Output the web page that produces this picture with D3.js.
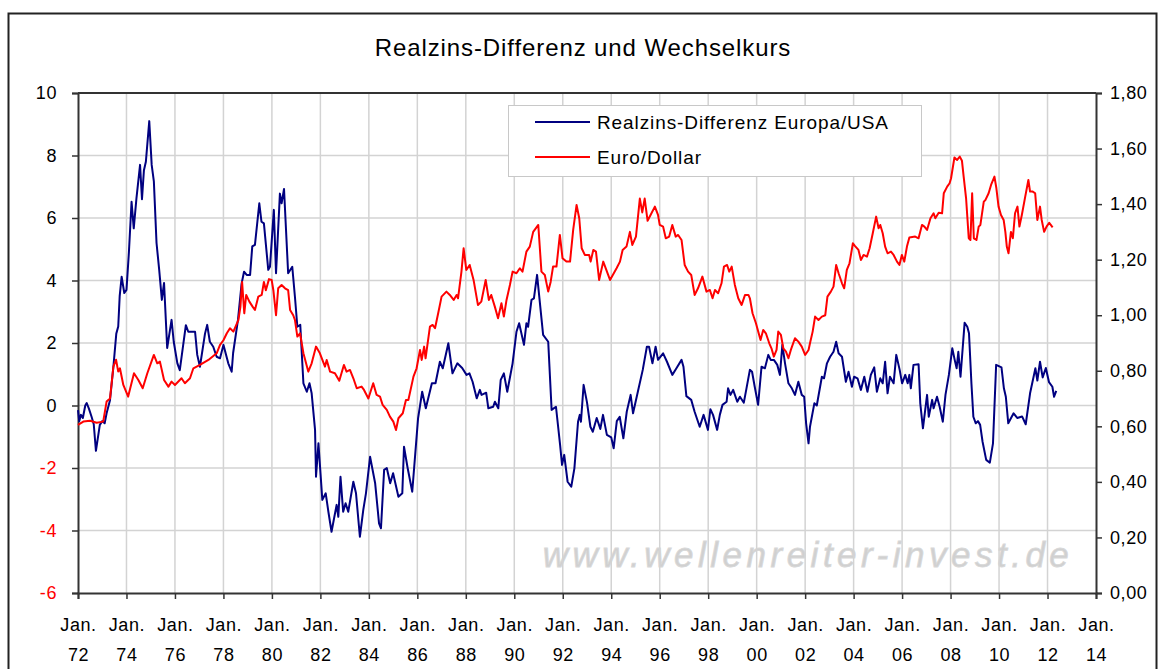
<!DOCTYPE html>
<meta charset="utf-8">
<script src="https://cdn.jsdelivr.net/npm/d3@7/dist/d3.min.js"></script>
<style>
    body { margin: 0; background: #fff; }
    svg text { font-family: "Liberation Sans", Arial, sans-serif; }
</style>

<svg width="1161" height="669"></svg>

<script>

    // Realzins-Differenz Europa/USA (left axis)
    var realDates = [1972.00, 1972.05, 1972.12, 1972.20, 1972.30, 1972.36, 1972.45, 1972.56, 1972.65, 1972.74, 1972.90, 1973.00, 1973.10, 1973.18, 1973.32, 1973.46, 1973.58, 1973.66, 1973.72, 1973.80, 1973.91,
        1974.00, 1974.10, 1974.21, 1974.30, 1974.41, 1974.56, 1974.64, 1974.72, 1974.80, 1974.94, 1975.04, 1975.13, 1975.24, 1975.35, 1975.46, 1975.55, 1975.68, 1975.86, 1975.95,
        1976.10, 1976.20, 1976.45, 1976.55, 1976.83, 1976.92, 1977.03, 1977.24, 1977.33, 1977.44, 1977.58, 1977.72, 1977.86, 1978.00, 1978.20, 1978.34, 1978.40, 1978.60, 1978.75, 1978.85, 1978.96,
        1979.10, 1979.19, 1979.30, 1979.48, 1979.57, 1979.67, 1979.85, 1979.92, 1980.08, 1980.17, 1980.33, 1980.40, 1980.50, 1980.67, 1980.84, 1980.95, 1981.05, 1981.17, 1981.30, 1981.44, 1981.55, 1981.64, 1981.78, 1981.82, 1981.92,
        1982.08, 1982.22, 1982.33, 1982.46, 1982.67, 1982.74, 1982.83, 1982.94, 1983.04, 1983.15, 1983.36, 1983.47, 1983.63, 1983.77, 1983.88, 1984.05, 1984.26, 1984.42, 1984.50, 1984.63, 1984.74, 1984.88,
        1985.00, 1985.22, 1985.38, 1985.45, 1985.60, 1985.79, 1986.03, 1986.20, 1986.35, 1986.60, 1986.75, 1986.93, 1987.05, 1987.28, 1987.45, 1987.65, 1987.85, 1988.03, 1988.15, 1988.28, 1988.45, 1988.58, 1988.65, 1988.84, 1988.93,
        1989.13, 1989.20, 1989.34, 1989.44, 1989.57, 1989.71, 1989.93, 1990.09, 1990.20, 1990.40, 1990.50, 1990.57, 1990.71, 1990.81, 1990.94, 1991.19, 1991.40, 1991.54, 1991.72, 1991.89, 1991.97,
        1992.06, 1992.20, 1992.35, 1992.48, 1992.63, 1992.70, 1992.75, 1992.86, 1993.00, 1993.14, 1993.24, 1993.40, 1993.55, 1993.66, 1993.82, 1994.00, 1994.10, 1994.23, 1994.35, 1994.50, 1994.64, 1994.80, 1994.90,
        1995.10, 1995.30, 1995.47, 1995.56, 1995.70, 1995.83, 1995.93, 1996.14, 1996.30, 1996.52, 1996.69, 1996.90, 1996.98, 1997.10, 1997.30, 1997.44, 1997.65, 1997.81, 1997.99,
        1998.09, 1998.20, 1998.37, 1998.48, 1998.59, 1998.76, 1998.82, 1998.92, 1999.03, 1999.20, 1999.31, 1999.47, 1999.58, 1999.72, 1999.81, 1999.92,
        2000.06, 2000.20, 2000.34, 2000.48, 2000.58, 2000.71, 2000.85, 2000.96, 2001.06, 2001.17, 2001.31, 2001.45, 2001.58, 2001.72, 2001.86, 2001.96,
        2002.04, 2002.14, 2002.20, 2002.38, 2002.48, 2002.69, 2002.78, 2002.90, 2003.03, 2003.17, 2003.28, 2003.38, 2003.52, 2003.68, 2003.79, 2003.93,
        2004.02, 2004.16, 2004.30, 2004.44, 2004.57, 2004.71, 2004.85, 2004.96, 2005.10, 2005.20, 2005.30, 2005.40, 2005.50, 2005.65, 2005.76, 2005.90,
        2006.00, 2006.13, 2006.23, 2006.30, 2006.36, 2006.47, 2006.68, 2006.75, 2006.86, 2007.03, 2007.10, 2007.24, 2007.30, 2007.44, 2007.55, 2007.68, 2007.79, 2007.93,
        2008.07, 2008.17, 2008.25, 2008.32, 2008.41, 2008.58, 2008.69, 2008.76, 2008.86, 2008.94, 2009.04, 2009.13, 2009.22, 2009.32, 2009.47, 2009.62, 2009.75, 2009.88,
        2010.10, 2010.20, 2010.28, 2010.38, 2010.60, 2010.75, 2010.95, 2011.10, 2011.28, 2011.50, 2011.58, 2011.69, 2011.80, 2011.93, 2012.06, 2012.20, 2012.27, 2012.36];
    var realValues = [-0.15, -0.5, -0.3, -0.4, 0.0, 0.08, -0.1, -0.36, -0.6, -1.45, -0.62, -0.5, -0.57, -0.25, 0.17, 1.24, 2.3, 2.53, 3.5, 4.12, 3.6,
        3.7, 4.9, 6.52, 5.67, 6.62, 7.7, 6.6, 7.53, 7.8, 9.1, 7.7, 7.17, 5.2, 4.34, 3.38, 3.92, 1.84, 2.74, 2.04,
        1.35, 1.13, 2.57, 2.36, 2.36, 1.62, 1.24, 2.3, 2.58, 2.04, 1.88, 1.56, 1.51, 1.94, 1.35, 1.08, 1.68, 2.74, 3.9, 4.28, 4.18,
        4.18, 5.09, 5.14, 6.47, 5.88, 5.83, 4.34, 4.44, 6.26, 4.23, 6.78, 6.47, 6.93, 4.23, 4.44, 3.48, 2.52, 2.58, 0.71, 0.44, 0.71, 0.39, -0.78, -2.28, -1.21,
        -3.02, -2.81, -3.4, -4.04, -3.18, -3.56, -2.28, -3.4, -3.13, -3.4, -2.44, -2.81, -4.2, -3.34, -2.81, -1.64, -2.49, -3.77, -3.93, -2.06, -2.0, -2.49,
        -2.17, -2.92, -2.81, -1.32, -2.0, -2.76, -0.41, 0.44, -0.09, 0.71, 0.71, 1.4, 1.19, 1.99, 1.03, 1.35, 1.2, 0.98, 1.03, 0.76, 0.23, 0.5, 0.34, 0.41, -0.09,
        -0.04, 0.12, -0.09, 0.82, 1.03, 0.44, 1.35, 2.36, 2.63, 1.94, 2.63, 2.52, 3.38, 3.43, 4.18, 2.26, 2.04, -0.14, -0.04, -1.26, -1.9,
        -1.58, -2.44, -2.6, -2.01, -0.52, -0.3, -0.52, 0.66, 0.1, -0.68, -0.84, -0.4, -0.75, -0.3, -0.94, -1.02, -1.37, -0.5, -0.36, -1.05, -0.2, 0.34, -0.25,
        0.45, 1.14, 1.88, 1.88, 1.35, 1.88, 1.46, 1.67, 1.4, 0.98, 1.19, 1.46, 1.24, 0.3, 0.18, -0.2, -0.68, -0.3, -0.78,
        -0.12, -0.3, -0.78, -0.3, 0.02, 0.12, 0.55, 0.34, 0.5, 0.12, 0.28, 0.09, 0.55, 1.14, 1.08, 0.6,
        0.02, 1.24, 1.19, 1.62, 1.46, 1.46, 1.3, 0.98, 1.94, 1.35, 0.71, 0.55, 0.34, 0.76, 0.34, 0.28,
        -0.57, -1.21, -0.68, 0.07, 0.0, 0.92, 0.87, 1.35, 1.56, 1.72, 2.04, 1.67, 1.56, 0.76, 1.08, 0.6,
        0.92, 0.87, 0.5, 0.92, 0.44, 0.98, 1.22, 0.44, 0.87, 0.71, 1.4, 0.39, 0.92, 0.71, 1.62, 1.14,
        0.71, 0.98, 0.71, 0.98, 0.55, 1.3, 1.32, 0.07, -0.73, 0.34, -0.36, 0.18, -0.09, 0.28, -0.04, -0.52, 0.34, 0.98,
        1.83, 1.46, 1.19, 1.72, 0.92, 2.65, 2.52, 2.31, 0.71, -0.36, -0.57, -0.5, -0.62, -1.16, -1.74, -1.83, -1.21, 1.3,
        1.22, 0.55, 0.28, -0.57, -0.25, -0.4, -0.35, -0.6, 0.39, 1.19, 0.8, 1.4, 0.9, 1.2, 0.75, 0.6, 0.28, 0.47];

    // Euro/Dollar (right axis)
    var fxDates = [1972.00, 1972.22, 1972.50, 1972.77, 1973.04, 1973.18, 1973.32, 1973.46, 1973.57, 1973.66, 1973.73, 1973.87, 1974.07, 1974.31, 1974.49, 1974.67, 1974.86,
        1975.13, 1975.27, 1975.38, 1975.55, 1975.73, 1975.86, 1976.00, 1976.27, 1976.41, 1976.62, 1976.76, 1977.03, 1977.38, 1977.72, 1977.86, 1978.00, 1978.14, 1978.27, 1978.41, 1978.62, 1978.70, 1978.77, 1978.86, 1978.94,
        1979.07, 1979.21, 1979.30, 1979.44, 1979.58, 1979.67, 1979.75, 1979.88, 1979.99, 1980.06, 1980.17, 1980.26, 1980.40, 1980.54, 1980.67, 1980.75, 1980.88, 1980.95, 1981.05, 1981.16, 1981.30, 1981.50, 1981.64, 1981.82, 1981.98,
        1982.19, 1982.26, 1982.40, 1982.60, 1982.78, 1982.97, 1983.08, 1983.22, 1983.36, 1983.50, 1983.70, 1983.80, 1983.98, 1984.18, 1984.32, 1984.46, 1984.57, 1984.74, 1984.87,
        1985.01, 1985.12, 1985.22, 1985.40, 1985.53, 1985.63, 1985.84, 1985.97, 1986.11, 1986.18, 1986.28, 1986.34, 1986.52, 1986.63, 1986.73, 1986.86, 1987.00, 1987.20, 1987.34, 1987.50, 1987.62, 1987.68, 1987.82, 1987.91,
        1988.02, 1988.16, 1988.32, 1988.50, 1988.64, 1988.82, 1988.95, 1989.05, 1989.20, 1989.33, 1989.47, 1989.57, 1989.68, 1989.82, 1989.93, 1990.09, 1990.23, 1990.34, 1990.50, 1990.64, 1990.78, 1990.99,
        1991.12, 1991.26, 1991.40, 1991.50, 1991.60, 1991.74, 1991.88, 1991.99, 1992.15, 1992.30, 1992.43, 1992.57, 1992.68, 1992.78, 1992.91, 1993.09, 1993.15, 1993.26, 1993.37, 1993.50, 1993.67, 1993.95,
        1994.22, 1994.36, 1994.47, 1994.63, 1994.77, 1994.87, 1995.02, 1995.18, 1995.28, 1995.38, 1995.50, 1995.66, 1995.80, 1995.93, 1996.00, 1996.14, 1996.25, 1996.39, 1996.52, 1996.66, 1996.76, 1996.90,
        1997.03, 1997.17, 1997.30, 1997.44, 1997.58, 1997.76, 1997.93, 1998.07, 1998.18, 1998.28, 1998.41, 1998.55, 1998.65, 1998.78, 1998.87, 1998.97, 1999.10, 1999.24, 1999.38, 1999.52, 1999.66, 1999.72, 1999.83, 1999.97,
        2000.16, 2000.27, 2000.38, 2000.52, 2000.61, 2000.71, 2000.82, 2000.89, 2001.00, 2001.10, 2001.21, 2001.31, 2001.41, 2001.58, 2001.72, 2001.86, 2002.00, 2002.14, 2002.20, 2002.31, 2002.41, 2002.55, 2002.69, 2002.83, 2002.92,
        2003.06, 2003.17, 2003.28, 2003.38, 2003.52, 2003.61, 2003.72, 2003.83, 2003.97, 2004.06, 2004.20, 2004.30, 2004.41, 2004.55, 2004.66, 2004.79, 2004.93, 2005.03, 2005.10, 2005.20, 2005.30, 2005.40, 2005.54, 2005.65, 2005.79, 2005.89, 2005.99,
        2006.09, 2006.20, 2006.30, 2006.54, 2006.68, 2006.82, 2006.92, 2007.03, 2007.17, 2007.30, 2007.37, 2007.51, 2007.65, 2007.72, 2007.86, 2007.96, 2008.02, 2008.16, 2008.27, 2008.38, 2008.47, 2008.54, 2008.64, 2008.75, 2008.82, 2008.89, 2008.96,
        2009.07, 2009.16, 2009.23, 2009.37, 2009.44, 2009.57, 2009.67, 2009.81, 2009.89, 2009.98, 2010.08, 2010.19, 2010.26, 2010.32, 2010.39, 2010.49, 2010.57, 2010.66, 2010.76, 2010.84, 2010.94,
        2011.08, 2011.21, 2011.28, 2011.39, 2011.49, 2011.58, 2011.69, 2011.76, 2011.86, 2011.96, 2012.07, 2012.21];
    var fxValues = [0.605, 0.617, 0.62, 0.613, 0.617, 0.689, 0.70, 0.815, 0.84, 0.797, 0.809, 0.749, 0.707, 0.791, 0.767, 0.737, 0.791,
        0.857, 0.827, 0.833, 0.767, 0.743, 0.761, 0.749, 0.773, 0.755, 0.773, 0.809, 0.821, 0.839, 0.863, 0.893, 0.91, 0.935, 0.953, 0.941, 0.983, 1.03, 1.12, 1.007, 1.073,
        1.049, 1.03, 1.019, 1.067, 1.073, 1.12, 1.09, 1.13, 1.127, 1.09, 1.0, 1.097, 1.109, 1.097, 1.09, 1.019, 1.0, 0.983, 0.923, 0.935, 0.863, 0.797, 0.827, 0.887, 0.863,
        0.815, 0.839, 0.797, 0.791, 0.764, 0.821, 0.797, 0.803, 0.773, 0.737, 0.743, 0.731, 0.70, 0.755, 0.713, 0.707, 0.677, 0.659, 0.635,
        0.617, 0.587, 0.629, 0.647, 0.695, 0.695, 0.779, 0.809, 0.875, 0.839, 0.887, 0.845, 0.959, 0.965, 0.953, 1.007, 1.067, 1.085, 1.073, 1.055, 1.073, 1.061, 1.157, 1.241,
        1.163, 1.181, 1.127, 1.037, 1.049, 1.127, 1.055, 1.073, 1.03, 0.989, 1.043, 0.995, 1.055, 1.109, 1.157, 1.151, 1.169, 1.157, 1.229, 1.247, 1.30, 1.325,
        1.157, 1.145, 1.085, 1.12, 1.175, 1.175, 1.289, 1.205, 1.193, 1.193, 1.307, 1.397, 1.349, 1.241, 1.217, 1.217, 1.193, 1.235, 1.229, 1.127, 1.193, 1.127,
        1.169, 1.193, 1.235, 1.247, 1.30, 1.253, 1.283, 1.42, 1.37, 1.42, 1.34, 1.367, 1.391, 1.361, 1.325, 1.319, 1.277, 1.283, 1.325, 1.283, 1.289, 1.271,
        1.181, 1.157, 1.145, 1.073, 1.097, 1.139, 1.085, 1.091, 1.061, 1.091, 1.079, 1.115, 1.175, 1.181, 1.157, 1.175, 1.109, 1.061, 1.037, 1.073, 1.073, 1.061, 1.007, 0.971,
        0.911, 0.947, 0.935, 0.899, 0.881, 0.851, 0.875, 0.941, 0.929, 0.881, 0.869, 0.845, 0.875, 0.917, 0.905, 0.887, 0.857, 0.875, 0.899, 0.941, 0.995, 0.983, 0.995, 1.0, 1.067,
        1.085, 1.103, 1.181, 1.151, 1.115, 1.097, 1.163, 1.187, 1.259, 1.249, 1.235, 1.199, 1.217, 1.211, 1.241, 1.295, 1.355, 1.313, 1.325, 1.295, 1.247, 1.223, 1.229, 1.217, 1.193, 1.181, 1.217,
        1.193, 1.247, 1.28, 1.283, 1.277, 1.325, 1.319, 1.307, 1.349, 1.367, 1.349, 1.369, 1.367, 1.439, 1.463, 1.475, 1.493, 1.568, 1.559, 1.571, 1.556, 1.499, 1.421, 1.277, 1.271, 1.439, 1.277,
        1.271, 1.319, 1.325, 1.409, 1.415, 1.439, 1.469, 1.499, 1.457, 1.391, 1.361, 1.343, 1.30, 1.247, 1.223, 1.30, 1.277, 1.367, 1.391, 1.319, 1.361,
        1.427, 1.487, 1.445, 1.445, 1.439, 1.343, 1.391, 1.343, 1.30, 1.319, 1.333, 1.316];

    var yearTicks = [1972, 1974, 1976, 1978, 1980, 1982, 1984, 1986, 1988, 1990, 1992, 1994, 1996, 1998, 2000, 2002, 2004, 2006, 2008, 2010, 2012, 2014];
    var leftTicks = [-6, -4, -2, 0, 2, 4, 6, 8, 10];
    var rightTicks = [0, 0.2, 0.4, 0.6, 0.8, 1.0, 1.2, 1.4, 1.6, 1.8];

    var svg = d3.select("svg");
    var plotLeft = 78, plotRight = 1096, plotTop = 93, plotBottom = 593;

    var x = d3.scaleLinear().domain([1972, 2014]).range([plotLeft, plotRight]);
    var yLeft = d3.scaleLinear().domain([-6, 10]).range([plotBottom, plotTop]);
    var yRight = d3.scaleLinear().domain([0, 1.8]).range([plotBottom, plotTop]);

    // outer frame
    svg.append("rect")
        .attr("x", 8.5).attr("y", 13.5)
        .attr("width", 1148).attr("height", 700)
        .attr("fill", "#fff")
        .attr("stroke", "#222").attr("stroke-width", 2);

    // title
    svg.append("text")
        .attr("x", 583).attr("y", 56)
        .attr("text-anchor", "middle")
        .style("font-size", "24px")
        .style("letter-spacing", "0.9px")
        .text("Realzins-Differenz und Wechselkurs");

    // watermark
    svg.append("text")
        .attr("x", 808).attr("y", 567)
        .attr("text-anchor", "middle")
        .style("font-size", "35px")
        .style("font-style", "italic")
        .style("letter-spacing", "4.5px")
        .attr("fill", "#d0d0d0")
        .attr("stroke", "#d8d8d8").attr("stroke-width", 0.8)
        .text("www.wellenreiter-invest.de");

    // grid
    var grid = svg.append("g").attr("stroke", "#d3d3d3").attr("stroke-width", 1.5);
    grid.selectAll(".gx").data(yearTicks.slice(1, -1)).enter().append("line")
        .attr("x1", function (d) { return x(d); }).attr("x2", function (d) { return x(d); })
        .attr("y1", plotTop).attr("y2", plotBottom);
    grid.selectAll(".gy").data(leftTicks.slice(1, -1)).enter().append("line")
        .attr("x1", plotLeft).attr("x2", plotRight)
        .attr("y1", function (d) { return yLeft(d); }).attr("y2", function (d) { return yLeft(d); });

    // legend box (covers the grid)
    var legend = svg.append("g");
    legend.append("rect")
        .attr("x", 508.5).attr("y", 105.5).attr("width", 413).attr("height", 71)
        .attr("fill", "#fff").attr("stroke", "#c8c8c8").attr("stroke-width", 1);
    var legendItems = [
        {label: "Realzins-Differenz Europa/USA", color: "#000080", y: 122},
        {label: "Euro/Dollar", color: "#ff0000", y: 157}
    ];
    legendItems.forEach(function (d) {
        legend.append("line")
            .attr("x1", 535).attr("x2", 590).attr("y1", d.y).attr("y2", d.y)
            .attr("stroke", d.color).attr("stroke-width", 2);
        legend.append("text")
            .attr("x", 597).attr("y", d.y + 7)
            .style("font-size", "19px")
            .style("letter-spacing", "0.9px")
            .text(d.label);
    });

    // axes
    var axisColor = "#333";
    var leftAxis = svg.append("g")
        .attr("transform", "translate(" + plotLeft + ",0)")
        .call(d3.axisLeft(yLeft).tickValues(leftTicks).tickSize(6).tickPadding(15)
            .tickFormat(function (d) { return String(d); }));
    leftAxis.selectAll("text")
        .attr("fill", function (d) { return d < 0 ? "#ff0000" : "#000"; });

    var rightAxis = svg.append("g")
        .attr("transform", "translate(" + plotRight + ",0)")
        .call(d3.axisRight(yRight).tickValues(rightTicks).tickSize(6).tickPadding(8)
            .tickFormat(function (d) { return d3.format(".2f")(d).replace(".", ","); }));

    var bottomAxis = svg.append("g")
        .attr("transform", "translate(0," + plotBottom + ")")
        .call(d3.axisBottom(x).tickValues(yearTicks).tickSize(6).tickFormat(""));
    bottomAxis.selectAll(".tick").each(function (d) {
        var t = d3.select(this).append("text")
            .attr("text-anchor", "middle").attr("fill", "#000");
        t.append("tspan").attr("x", 0).attr("y", 38).text("Jan.");
        t.append("tspan").attr("x", 0).attr("y", 68).text(String(d).slice(2));
    });

    svg.selectAll(".domain").attr("stroke", axisColor).attr("stroke-width", 2);
    svg.selectAll(".tick line").attr("stroke", axisColor).attr("stroke-width", 1.5);
    svg.selectAll(".tick text")
        .style("font-family", "'Liberation Sans', Arial, sans-serif")
        .style("font-size", "18px")
        .style("letter-spacing", "0.6px");
    rightAxis.selectAll(".tick text").attr("fill", "#000");

    // top frame line
    svg.append("line")
        .attr("x1", plotLeft).attr("x2", plotRight).attr("y1", plotTop).attr("y2", plotTop)
        .attr("stroke", axisColor).attr("stroke-width", 2);

    // series
    var realLine = d3.line()
        .x(function (d) { return x(d[0]); })
        .y(function (d) { return yLeft(d[1]); });
    var fxLine = d3.line()
        .x(function (d) { return x(d[0]); })
        .y(function (d) { return yRight(d[1]); });

    svg.append("path")
        .datum(d3.zip(realDates, realValues))
        .attr("fill", "none").attr("stroke", "#000080").attr("stroke-width", 2)
        .attr("stroke-linejoin", "round")
        .attr("d", realLine);

    svg.append("path")
        .datum(d3.zip(fxDates, fxValues))
        .attr("fill", "none").attr("stroke", "#ff0000").attr("stroke-width", 2)
        .attr("stroke-linejoin", "round")
        .attr("d", fxLine);

</script>
